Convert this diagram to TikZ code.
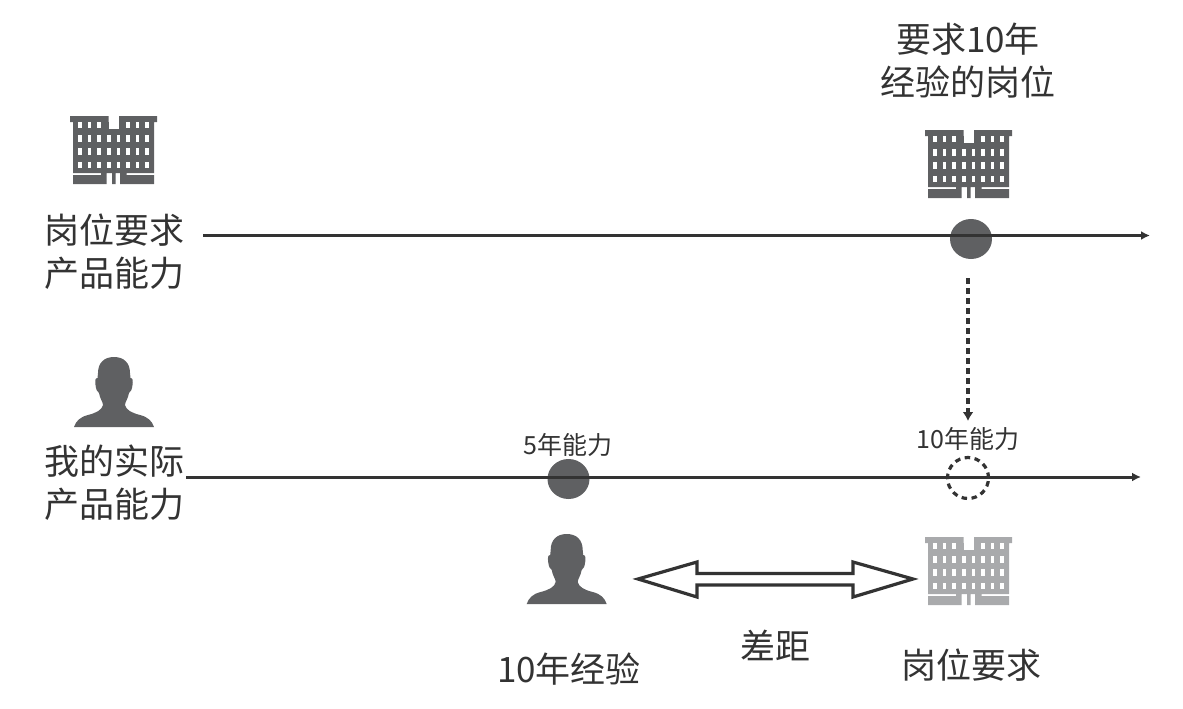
\documentclass[tikz,border=0pt]{standalone}
\usepackage{fontspec}
\setmainfont{Noto Sans CJK SC}
\usetikzlibrary{arrows.meta,shapes.geometric}
\definecolor{ink}{HTML}{333333}
\definecolor{darkfill}{HTML}{5F6062}
\definecolor{lightb}{HTML}{A9AAAC}
\tikzset{
  bigtext/.style={text=ink,font=\fontsize{35}{43}\selectfont,align=center,inner sep=0pt},
  smalltext/.style={text=ink,font=\fontsize{25}{28}\selectfont,align=center,inner sep=0pt},
  axisline/.style={draw=ink,line width=3pt,-{Latex[length=9pt,width=9pt]}},
  dot/.style={ellipse,fill=darkfill,inner sep=0pt,minimum width=42pt,minimum height=40pt},
  emptydot/.style={circle,draw=ink,line width=3.2pt,dash pattern=on 5.5pt off 4.5pt,inner sep=0pt,minimum size=41pt},
  building/.pic={
    \fill[pic actions] (0,0) rectangle (38.5,6) (49,0) rectangle (87,6)
      (3,6) rectangle (84,57) (38.5,13) rectangle (49,57)
      (3,59) rectangle (31,68) (31,57) rectangle (36.7,68)
      (42,57) rectangle (45.7,68) (50,57) rectangle (56.7,68) (56.7,59) rectangle (84,68);
    \fill[white] (38.5,0) rectangle (49,13);
    \foreach \yy in {5.7,19,32,45.7}{
      \foreach \xx in {10,19.3,29,57.7,67.3,77}{
        \fill[white] (\xx-1.8,\yy) rectangle (\xx+1.8,\yy+6.5);
      }
    }
    \foreach \yy in {19,32,45.7}{
      \foreach \xx in {38.7,48.3}{
        \fill[white] (\xx-1.8,\yy) rectangle (\xx+1.8,\yy+6.5);
      }
    }
  },
  person/.pic={
    \fill[darkfill] (0,0) .. controls (10,0) and (16,6) .. (16,16)
      -- (16.5,21) .. controls (19,21) and (19,24) .. (18.5,28)
      .. controls (18,32) and (17,35) .. (15,36)
      .. controls (14,42) and (11,45) .. (11,48)
      .. controls (12,53) and (18,56) .. (26,58)
      .. controls (34,60) and (38,64) .. (40,70)
      -- (-40,70)
      .. controls (-38,64) and (-34,60) .. (-26,58)
      .. controls (-18,56) and (-12,53) .. (-11,48)
      .. controls (-11,45) and (-14,42) .. (-15,36)
      .. controls (-17,35) and (-18,32) .. (-18.5,28)
      .. controls (-19,24) and (-19,21) .. (-16.5,21)
      -- (-16,16) .. controls (-16,6) and (-10,0) .. (0,0) -- cycle;
  }
}
\begin{document}
\begin{tikzpicture}[x=1pt,y=-1pt]
\useasboundingbox (0,0) rectangle (1183,709);
% dots
\node[dot] (d1) at (971,239) {};
\node[dot] (d2) at (568.5,479) {};
% axes
\coordinate (a1s) at (203,235.5);
\coordinate (a1e) at (1150,235.5);
\coordinate (a2s) at (186,477);
\coordinate (a2e) at (1141,477);
\draw[axisline] (a1s) -- (a1e);
\draw[axisline] (a2s) -- (a2e);
\node[emptydot] (d3) at (968,478) {};
% dashed connector
\coordinate (ds) at (968,278);
\coordinate (de) at (968,421);
\draw[draw=ink,line width=3.2pt,dash pattern=on 5.5pt off 4.5pt,-{Latex[length=9pt,width=11pt]}] (ds) -- (de);
% buildings
\pic[fill=darkfill] at (70,116) {building};
\pic[fill=darkfill] at (925,130) {building};
\pic[fill=lightb] at (925,537) {building};
% persons
\pic at (114,357) {person};
\pic at (566.7,534) {person};
% double arrow
\draw[draw=ink,line width=3.2pt,fill=white,line join=miter,miter limit=4]
  (638,579) -- (697,562) -- (697,573.5) -- (853,573.5) -- (853,562) -- (913,579)
  -- (853,597) -- (853,585) -- (697,585) -- (697,597) -- cycle;
% labels
\node[bigtext] (t1) at (968,61) {要求10年\\经验的岗位};
\node[bigtext] (t2) at (114,252) {岗位要求\\产品能力};
\node[bigtext] (t3) at (114,483) {我的实际\\产品能力};
\node[smalltext] (t4) at (568,445) {5年能力};
\node[smalltext] (t5) at (968,439) {10年能力};
\node[bigtext] (t6) at (569,669) {10年经验};
\node[bigtext] (t7) at (971,665) {岗位要求};
\node[bigtext] (t8) at (775,645) {差距};
\end{tikzpicture}
\end{document}
